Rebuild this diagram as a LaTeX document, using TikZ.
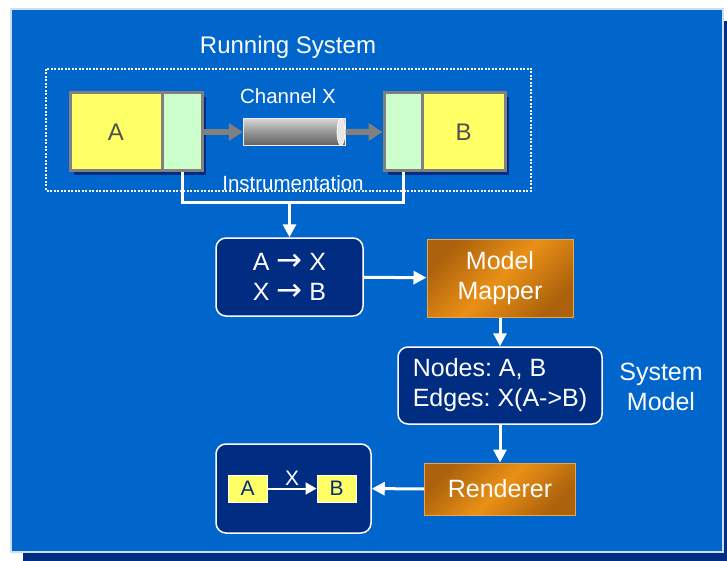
\documentclass[tikz,border=0pt]{standalone}
\usepackage{fontspec}
\setmainfont{Liberation Sans}
\newfontfamily\arrowfont{DejaVu Sans}
\usetikzlibrary{positioning, arrows.meta, shapes.geometric, shadows}
\definecolor{rsblue}{RGB}{0,102,204}
\definecolor{rsnavy}{RGB}{0,45,130}
\definecolor{rsedge}{RGB}{205,222,250}
\definecolor{compyellow}{RGB}{255,255,102}
\definecolor{probegreen}{RGB}{204,255,204}
\definecolor{rimgrey}{RGB}{128,128,128}
\definecolor{textgrey}{RGB}{80,80,80}
\definecolor{amberdark}{RGB}{172,98,12}
\definecolor{amberlight}{RGB}{234,144,22}
\definecolor{pipetop}{RGB}{215,215,215}
\definecolor{pipemid}{RGB}{150,150,150}
\definecolor{pipelow}{RGB}{98,98,98}
\newcommand{\ra}{{\arrowfont\fontsize{31}{30}\selectfont →}}

\begin{document}
\frenchspacing
\begin{tikzpicture}[x=1pt, y=-1pt,
    big/.style={font=\fontsize{25}{30}\selectfont, text=white},
    mid/.style={font=\fontsize{20.5}{24}\selectfont, text=white},
    comp/.style={draw=rimgrey, line width=3pt, fill=compyellow, inner sep=0pt,
                 minimum height=78pt, text=textgrey, font=\fontsize{24}{28}\selectfont,
                 general shadow={fill=rsnavy, shadow xshift=4pt, shadow yshift=-4pt}},
    probe/.style={comp, fill=probegreen},
    chan/.style={cylinder, shape border rotate=0, aspect=0.3, draw=white!85!gray,
                 line width=0.8pt, inner sep=0pt, minimum width=27pt, minimum height=102pt,
                 top color=pipetop, bottom color=pipelow, middle color=pipemid},
    panel/.style={draw=white, line width=1.5pt, fill=rsnavy, rounded corners=10pt,
                  inner sep=0pt, big},
    proc/.style={draw=amberlight!80!white, line width=1pt, inner sep=0pt, big,
                 top color=amberdark, bottom color=amberdark, middle color=amberlight,
                 shading angle=45},
    tag/.style={draw=white, line width=1pt, fill=compyellow, inner sep=0pt,
                minimum width=39pt, minimum height=27pt, text=rsnavy,
                font=\fontsize{21}{24}\selectfont},
    flow/.style={draw=white, line width=3pt, -{Triangle[length=13pt, width=13pt]}},
    wire/.style={draw=white, line width=3pt},
    pipe/.style={draw=rimgrey, line width=6pt, -{Triangle[length=14pt, width=17pt]}}
  ]
  % backdrop
  \useasboundingbox (0,0) rectangle (727,561);
  \fill[rsnavy] (23,21) rectangle (727,561);
  \fill[rsblue] (11,9) rectangle (723,552);
  \draw[rsedge, line width=1.2pt] (11,9) rectangle (723,552);

  % running system
  \node[font=\fontsize{24}{28}\selectfont, text=white] (runtitle) at (288,47) {Running System};
  \draw[white, line width=2pt, dash pattern=on 2pt off 1.5pt] (46,69) rectangle (531,191);
  \node[comp, minimum width=92pt] (compA) at (116,132) {A};
  \node[probe, minimum width=40pt] (probeA) at (182,132) {};
  \node[probe, minimum width=38pt] (probeB) at (403,132) {};
  \node[comp, minimum width=83pt] (compB) at (463.5,132) {B};
  \node[mid] (chanlbl) at (288,96) {Channel X};
  \node[chan] (chan) at (294,132) {};
  \fill[pipetop!60!white, draw=white, line width=0.6pt] (341,132) ellipse [x radius=4, y radius=13.5];
  \draw[pipe] (probeA) -- (chan);
  \draw[pipe] (chan) -- (probeB);

  % instrumentation
  \node[mid] (instr) at (293,183) {Instrumentation};
  \coordinate (tap) at (289.5,203);
  \draw[wire] (probeA.south) |- (tap) -| (probeB.south);

  % model pipeline
  \node[panel, minimum width=147pt, minimum height=78pt, align=center] (trace) at (289.5,277)
       {A \ra{} X\\X \ra{} B};
  \draw[flow] (tap) -- (trace);
  \node[proc, minimum width=146pt, minimum height=78pt, align=center] (mapper) at (500,278)
       {Model\\Mapper};
  \draw[flow] (trace) -- (mapper);
  \node[panel, minimum width=204pt, minimum height=77pt, align=left] (model) at (500,385.5)
       {Nodes: A, B\\Edges: X(A->B)};
  \node[big, align=center] (modelname) at (661,387) {System\\Model};
  \draw[flow] (mapper) -- (model);
  \node[proc, minimum width=151pt, minimum height=52pt] (render) at (500,489) {Renderer};
  \draw[flow] (model) -- (render);

  % rendered view
  \node[panel, minimum width=155pt, minimum height=89pt] (view) at (293.5,488.5) {};
  \draw[flow] (render) -- (view);
  \node[tag] (tagA) at (247.5,488.5) {A};
  \node[tag] (tagB) at (336.5,488.5) {B};
  \draw[white, line width=2pt, -{Triangle[length=11pt, width=12pt]}] (tagA) --
       node[above, inner sep=1pt, yshift=1pt, font=\fontsize{21}{24}\selectfont, text=white] (xlbl) {X} (tagB);
\end{tikzpicture}
\end{document}
